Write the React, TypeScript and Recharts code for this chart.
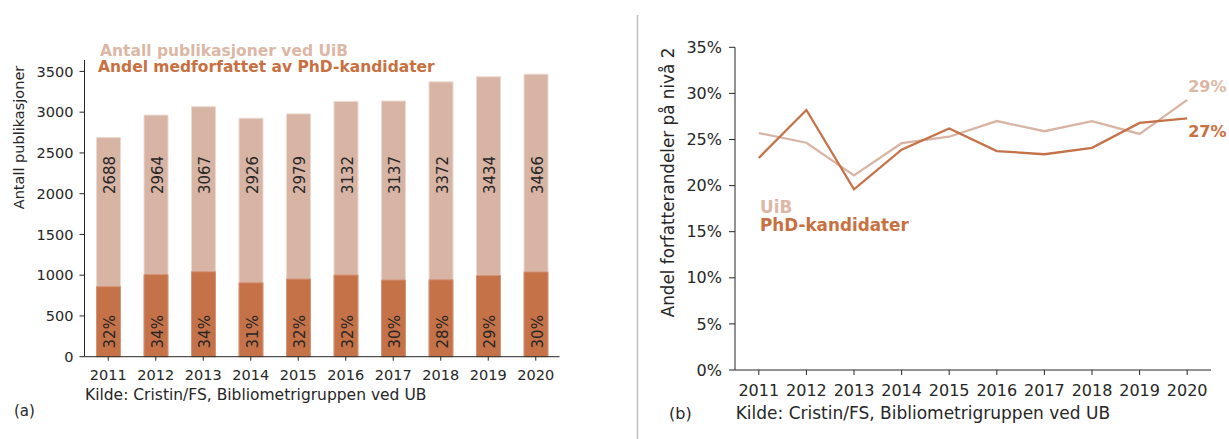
import { Bar, BarChart, LabelList, Line, LineChart, XAxis, YAxis } from "recharts";

const years = [2011, 2012, 2013, 2014, 2015, 2016, 2017, 2018, 2019, 2020];
const totalPublications = [2688, 2964, 3067, 2926, 2979, 3132, 3137, 3372, 3434, 3466];
const phdCoauthored = [860, 1008, 1043, 907, 953, 1002, 941, 944, 996, 1040];
const phdPctLabels = ["32%", "34%", "34%", "31%", "32%", "32%", "30%", "28%", "29%", "30%"];
const countTicks = [0, 500, 1000, 1500, 2000, 2500, 3000, 3500];

const uibShare = [25.7, 24.65, 21.1, 24.6, 25.3, 27.0, 25.9, 27.0, 25.6, 29.3];
const phdShare = [23.0, 28.2, 19.6, 23.9, 26.2, 23.75, 23.4, 24.1, 26.8, 27.3];
const shareTicks = [0, 5, 10, 15, 20, 25, 30, 35];
const endLabels = { uib: "29%", phd: "27%" };

const LIGHT = "#d8b4a4";
const DARK = "#c57248";
const LIGHT_TEXT = "#dcb7a6";
const DARK_TEXT = "#c8703f";
const INK = "#262626";
const FONT = "DejaVu Sans, sans-serif";

const barData = years.map((year, i) => ({
  year: String(year),
  total: totalPublications[i],
  phd: phdCoauthored[i],
  pct: phdPctLabels[i],
}));

const lineData = years.map((year, i) => ({
  year,
  uib: uibShare[i],
  phd: phdShare[i],
}));

// rotated label placed at a fixed value level inside the bar
function inBarLabel(levelValue: number, key: "total" | "phd", textKey: "total" | "pct") {
  return (props: any) => {
    const { x, y, width, height, index } = props;
    const row = barData[index];
    const bottom = y + height;
    const cy = bottom - height * (levelValue / row[key]);
    const cx = x + width / 2 + 2;
    return (
      <text
        x={cx}
        y={cy}
        transform={`rotate(-90 ${cx} ${cy})`}
        textAnchor="middle"
        dominantBaseline="central"
        fontSize={15}
        fontFamily={FONT}
        fill={INK}
      >
        {String(row[textKey])}
      </text>
    );
  };
}

function endLabel(text: string, color: string, dy: number) {
  return (props: any) => {
    const { x, y, index } = props;
    if (index !== lineData.length - 1) return null;
    return (
      <text
        x={x + 1}
        y={y + dy}
        dominantBaseline="central"
        fontSize={16}
        fontWeight="bold"
        fontFamily={FONT}
        fill={color}
      >
        {text}
      </text>
    );
  };
}

function PublicationsChart() {
  return (
    <BarChart
      width={640}
      height={439}
      data={barData}
      margin={{ top: 60, right: 80.5, bottom: 52.3, left: 24.5 }}
      barGap={-24}
    >
      <XAxis
        dataKey="year"
        height={30}
        tickSize={4}
        tickMargin={8.6}
        axisLine={{ stroke: INK }}
        tickLine={{ stroke: INK }}
        tick={{ fill: INK, fontSize: 14.5, fontFamily: FONT }}
        interval={0}
      />
      <YAxis
        width={60}
        domain={[0, 3640]}
        ticks={countTicks}
        tickSize={5}
        tickMargin={6}
        axisLine={{ stroke: INK }}
        tickLine={{ stroke: INK }}
        tick={{ fill: INK, fontSize: 14.5, fontFamily: FONT }}
      />
      <Bar dataKey="total" fill={LIGHT} stroke="#ecd9d0" strokeWidth={1} barSize={24} isAnimationActive={false}>
        <LabelList dataKey="total" content={inBarLabel(2230, "total", "total")} />
      </Bar>
      <Bar dataKey="phd" fill={DARK} stroke="#d6957a" strokeWidth={1} barSize={24} isAnimationActive={false}>
        <LabelList dataKey="pct" content={inBarLabel(306, "phd", "pct")} />
      </Bar>
    </BarChart>
  );
}

function ShareChart() {
  return (
    <LineChart
      width={589}
      height={439}
      data={lineData}
      margin={{ top: 47.3, right: 18, bottom: 39, left: 15 }}
    >
      <XAxis
        dataKey="year"
        type="number"
        height={30}
        domain={[2010.5, 2020.5]}
        ticks={years}
        tickSize={5}
        tickMargin={9.4}
        axisLine={{ stroke: INK }}
        tickLine={{ stroke: INK }}
        tick={{ fill: INK, fontSize: 16, fontFamily: FONT }}
        interval={0}
      />
      <YAxis
        width={80}
        domain={[0, 35]}
        ticks={shareTicks}
        tickFormatter={(v) => `${v}%`}
        tickSize={6}
        tickMargin={7}
        axisLine={{ stroke: INK }}
        tickLine={{ stroke: INK }}
        tick={{ fill: INK, fontSize: 16, fontFamily: FONT }}
      />
      <Line
        dataKey="uib"
        type="linear"
        stroke={LIGHT}
        strokeWidth={2.3}
        dot={false}
        isAnimationActive={false}
      >
        <LabelList dataKey="uib" content={endLabel(endLabels.uib, LIGHT_TEXT, -13.3)} />
      </Line>
      <Line
        dataKey="phd"
        type="linear"
        stroke={DARK}
        strokeWidth={2.3}
        dot={false}
        isAnimationActive={false}
      >
        <LabelList dataKey="phd" content={endLabel(endLabels.phd, DARK_TEXT, 13.4)} />
      </Line>
    </LineChart>
  );
}

export default function App() {
  return (
    <div
      style={{
        position: "absolute",
        left: 0,
        top: 0,
        width: 1229,
        height: 439,
        background: "#fff",
        fontFamily: FONT,
        overflow: "hidden",
      }}
    >
      <div style={{ position: "absolute", left: 0, top: 0 }}>
        <PublicationsChart />
      </div>
      <div style={{ position: "absolute", left: 640, top: 0 }}>
        <ShareChart />
      </div>
      <svg
        width={1229}
        height={439}
        style={{ position: "absolute", left: 0, top: 0, pointerEvents: "none" }}
        fontFamily={FONT}
      >
        <line x1={637.5} y1={15} x2={637.5} y2={439} stroke="#bdbdbd" strokeWidth={1.5} />

        <text x={19} y={137.5} transform="rotate(-90 19 137.5)" textAnchor="middle" dominantBaseline="central" fontSize={14.5} fill={INK}>
          Antall publikasjoner
        </text>
        <text x={100} y={50.7} dominantBaseline="central" fontSize={15.5} fontWeight="bold" fill={LIGHT_TEXT}>
          Antall publikasjoner ved UiB
        </text>
        <text x={98} y={66.5} dominantBaseline="central" fontSize={15.5} fontWeight="bold" fill={DARK_TEXT}>
          Andel medforfattet av PhD-kandidater
        </text>
        <text x={85} y={395} dominantBaseline="central" fontSize={15.5} fill={INK}>
          Kilde: Cristin/FS, Bibliometrigruppen ved UB
        </text>
        <text x={14} y={411} dominantBaseline="central" fontSize={15} fill={INK}>
          (a)
        </text>

        <text x={668} y={182.5} transform="rotate(-90 668 182.5)" textAnchor="middle" dominantBaseline="central" fontSize={16.8} fill={INK}>
          Andel forfatterandeler på nivå 2
        </text>
        <text x={760} y={206.7} dominantBaseline="central" fontSize={16.8} fontWeight="bold" fill={LIGHT_TEXT}>
          UiB
        </text>
        <text x={760} y={225} dominantBaseline="central" fontSize={16.8} fontWeight="bold" fill={DARK_TEXT}>
          PhD-kandidater
        </text>
        <text x={735.7} y={413.3} dominantBaseline="central" fontSize={17} fill={INK}>
          Kilde: Cristin/FS, Bibliometrigruppen ved UB
        </text>
        <text x={669} y={413} dominantBaseline="central" fontSize={16} fill={INK}>
          (b)
        </text>
      </svg>
    </div>
  );
}
